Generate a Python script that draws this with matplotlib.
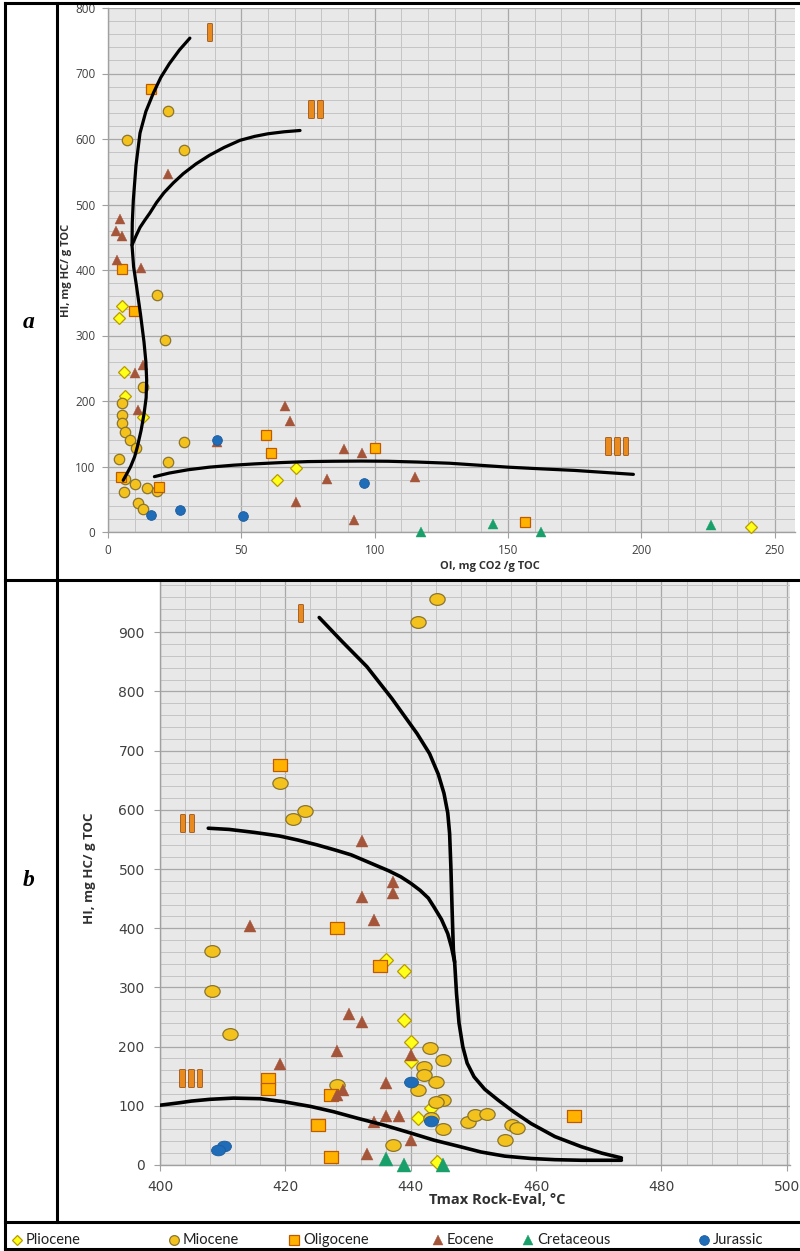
import numpy as np
import matplotlib
matplotlib.use("Agg")
import matplotlib.pyplot as plt
from matplotlib.lines import Line2D
from matplotlib.path import Path
from matplotlib.ticker import MultipleLocator
import matplotlib.patheffects as pe

# ---------------- data: panel a (OI, HI) ----------------
pliocene_a_oi = [5.2, 4.2, 6.1, 6.4, 13.2, 70.4, 63.4, 241]
pliocene_a_hi = [345, 327, 245, 208, 176, 98, 79, 7]
miocene_a_oi = [22.4, 7.2, 28.4, 18.4, 21.4, 13, 5.2, 5.2, 5.2, 6.4, 8.2, 28.4, 10.5, 4.2,
                22.4, 6.4, 10.2, 14.5, 18.2, 6.1, 11.4, 13.2]
miocene_a_hi = [643, 598, 583, 362, 293, 222, 197, 178, 166, 153, 140, 137, 129, 111,
                107, 81, 73, 67, 63, 61.5, 45, 35]
oligocene_a_oi = [16, 5.2, 9.9, 59.2, 100, 61.1, 4.8, 19.2, 156.2]
oligocene_a_hi = [676, 401, 338, 148, 129, 120, 83.5, 69, 15]
eocene_a_oi = [22.4, 4.5, 3, 5.2, 3.2, 12.2, 13, 10.2, 66.4, 11.1, 68.2, 41, 88.4, 95.2,
               82.2, 115.2, 70.4, 92.2]
eocene_a_hi = [547, 478, 460, 452, 415, 403, 255, 242, 193, 186, 170, 138, 127, 120,
               81, 84, 46, 19]
cretaceous_a_oi = [117.2, 144.4, 162.2, 226]
cretaceous_a_hi = [0, 12, 0, 11]
jurassic_a_oi = [41, 96.1, 27.1, 16.1, 50.5]
jurassic_a_hi = [141, 75, 34, 26, 25]

curve1_a_oi = [5.7, 7.2, 8.5, 10, 11, 12.4, 13.5, 14.3, 14.5, 14.2, 13.5, 12.2, 10.7, 9.6,
               9.0, 9.1, 9.5, 10.5, 12, 14.2, 17, 19.8, 23, 26.8, 30.7]
curve1_a_hi = [79, 90, 100, 115, 130, 155, 180, 205, 232, 260, 290, 332, 375, 405,
               438, 472, 507, 560, 609, 642, 670, 694, 715, 736, 754]
curve2_a_oi = [9, 10.5, 12, 13.8, 15.7, 18.2, 21, 24.5, 28.2, 33, 38, 43.5, 49.5, 55, 60, 66, 72]
curve2_a_hi = [438, 452, 465, 476, 487, 503, 518, 533, 547, 562, 575, 587, 598, 604, 608, 611, 613]
curve3_a_oi = [17.4, 23, 30, 38, 47, 55, 65, 75, 84.5, 95, 105, 116, 128, 139, 150, 162, 175, 186, 197]
curve3_a_hi = [84.5, 90, 95, 99, 102, 104, 106, 107.5, 108, 108.3, 108, 106.8, 105, 102, 99, 96.5, 94, 91, 88]

# ---------------- data: panel b (Tmax, HI) ----------------
pliocene_b_t = [436.1, 439, 439, 440.1, 440.1, 443.2, 441.2, 444.2]
pliocene_b_hi = [346, 328, 245, 208, 176, 97, 79, 5.6]
miocene_b_t = [444.2, 441.2, 419.2, 421.2, 423.2, 408.3, 408.3, 411.2, 443.1, 445.2, 442.1,
               442.1, 444.1, 428.2, 441.2, 445.2, 444.1, 443.2, 445.2, 437.2, 449.1, 450.2,
               452.2, 456.2, 457, 455.1]
miocene_b_hi = [957, 918, 645, 585, 598, 362, 294, 221, 198, 177, 165,
                152, 140, 136, 127, 110, 107, 80, 60, 34, 72, 84,
                86, 68, 63, 43]
oligocene_b_t = [419.2, 428.3, 435.1, 417.3, 417.3, 427.2, 425.2, 427.2, 466.1]
oligocene_b_hi = [675, 400, 337, 146, 128, 118, 68, 14, 83]
eocene_b_t = [432.3, 437.2, 437.2, 432.3, 434.1, 414.3, 430.1, 432.3, 428.2, 440.1, 419.2,
              436.1, 429.2, 428.2, 436.1, 438.2, 434.1, 440.1, 433.1]
eocene_b_hi = [547, 478, 459, 452, 414, 403, 255, 241, 193, 186, 170,
               138, 127, 119, 83, 82, 73, 43, 18]
cretaceous_b_t = [436.1, 439, 445.2]
cretaceous_b_hi = [9.6, 0, 0]
jurassic_b_t = [440.1, 443.2, 410.2, 409.2]
jurassic_b_hi = [140, 74, 32, 25]

curve1_b_t = [425.4, 429, 433, 437, 441, 443, 444.4, 445.3, 445.9, 446.2, 446.4, 446.6,
              446.8, 447, 447.3, 447.7, 448.3, 449, 450.1, 451.8, 453.9, 456.4, 459.2,
              463, 467.2, 470.5, 473.6]
curve1_b_hi = [925, 885, 842, 788, 729, 695, 660, 628, 595, 560, 504, 430,
               363, 343, 290, 240, 200, 172, 149, 128, 110, 90, 70,
               48, 31, 20, 12]
curve2_b_t = [407.7, 411, 415, 419, 422, 425, 428, 430.5, 432.5, 434.5, 436.5, 438.4,
              440, 441.5, 442.8, 443.7, 444.9, 445.9, 446.5, 447]
curve2_b_hi = [569, 567, 562, 556, 549, 541, 532, 524, 515, 506, 497, 487,
               476, 464, 451, 436, 415, 391, 368, 343]
curve3_b_t = [400, 403, 405, 408, 411.7, 416, 419.7, 424, 427.7, 431.5, 435.7, 440, 443.7,
              447.5, 451.2, 455, 459.2, 463, 467.2, 473.6]
curve3_b_hi = [101, 105, 108, 111, 113, 112, 107, 99, 90, 79, 67.5, 54, 42,
               32, 22, 15, 11, 9, 8, 8]

series_names = ["Pliocene", "Miocene", "Oligocene", "Eocene", "Cretaceous", "Jurassic"]

# ---------------- styles ----------------
BG = "#e8e8e8"
ellipse = Path(Path.unit_circle().vertices * np.array([1.3, 1.0]), Path.unit_circle().codes)
rect = Path(np.array([[-1.2, -1], [1.2, -1], [1.2, 1], [-1.2, 1], [-1.2, -1]]),
            [Path.MOVETO, Path.LINETO, Path.LINETO, Path.LINETO, Path.CLOSEPOLY])

styles = {
    "Pliocene":   dict(marker="D", mfc="#ffff1a", mec="#b89a00", mew=0.9),
    "Miocene":    dict(marker="o", mfc="#f4c21c", mec="#8a7430", mew=0.9),
    "Oligocene":  dict(marker="s", mfc="#ffb300", mec="#c05a00", mew=0.9),
    "Eocene":     dict(marker="^", mfc="#a5563a", mec="#a5563a", mew=0.3),
    "Cretaceous": dict(marker="^", mfc="#19a06a", mec="#19a06a", mew=0.3),
    "Jurassic":   dict(marker="o", mfc="#1f6cb8", mec="#1d5c9c", mew=0.6),
}
sizes_a = {"Pliocene": 6.0, "Miocene": 7.5, "Oligocene": 7.0, "Eocene": 7.0,
           "Cretaceous": 7.0, "Jurassic": 7.0}
sizes_b = {"Pliocene": 7.0, "Miocene": 11.0, "Oligocene": 10.0, "Eocene": 9.0,
           "Cretaceous": 9.5, "Jurassic": 10.0}

W, H = 800, 1251
fig = plt.figure(figsize=(W / 100, H / 100), dpi=100)
fig.patch.set_facecolor("white")


def fx(px):
    return px / W


def fy(py):
    return 1 - py / H


def style_axes(ax, xmaj, xmin, ymaj, ymin, fs, fam, pad):
    ax.set_facecolor(BG)
    ax.xaxis.set_major_locator(MultipleLocator(xmaj))
    ax.xaxis.set_minor_locator(MultipleLocator(xmin))
    ax.yaxis.set_major_locator(MultipleLocator(ymaj))
    ax.yaxis.set_minor_locator(MultipleLocator(ymin))
    ax.grid(which="major", color="#a8a8a8", lw=0.9, zorder=0)
    ax.grid(which="minor", color="#c4c4c4", lw=0.7, zorder=0)
    ax.set_axisbelow(True)
    for s in ["top", "right"]:
        ax.spines[s].set_visible(False)
    for s in ["left", "bottom"]:
        ax.spines[s].set_color("#a0a0a0")
        ax.spines[s].set_linewidth(1.0)
    ax.tick_params(which="major", direction="out", length=4, color="#a0a0a0",
                   labelsize=fs, labelcolor="#404040", pad=pad)
    ax.tick_params(which="minor", length=0)
    for lab in ax.get_xticklabels() + ax.get_yticklabels():
        lab.set_family(fam)


# ---------------- panel a ----------------
axa = fig.add_axes([fx(108), fy(532), fx(795) - fx(108), fy(8) - fy(532)])
axa.set_xlim(0, 257.6)
axa.set_ylim(0, 800)
style_axes(axa, 50, 10, 100, 20, 8.5, "Open Sans", 5)
axa.set_xticks([0, 50, 100, 150, 200, 250])

data_a = {
    "Pliocene": (pliocene_a_oi, pliocene_a_hi),
    "Miocene": (miocene_a_oi, miocene_a_hi),
    "Oligocene": (oligocene_a_oi, oligocene_a_hi),
    "Eocene": (eocene_a_oi, eocene_a_hi),
    "Cretaceous": (cretaceous_a_oi, cretaceous_a_hi),
    "Jurassic": (jurassic_a_oi, jurassic_a_hi),
}
for name in series_names:
    xs, ys = data_a[name]
    axa.plot(xs, ys, ls="none", ms=sizes_a[name], zorder=3, clip_on=False, **styles[name])

for cx, cy in [(curve1_a_oi, curve1_a_hi), (curve2_a_oi, curve2_a_hi), (curve3_a_oi, curve3_a_hi)]:
    axa.plot(cx, cy, color="black", lw=2.3, zorder=4, solid_capstyle="round",
             solid_joinstyle="round")

lab_eff = [pe.withStroke(linewidth=1.2, foreground="#9a4a05")]
for txt, x, y in [("I", 38.2, 760), ("II", 78, 643), ("III", 191, 128)]:
    axa.text(x, y, txt, color="#e88a1e", fontsize=17, fontweight="bold",
             family="DejaVu Sans", ha="center", va="center", zorder=5,
             path_effects=lab_eff)

# ---------------- panel b ----------------
axb = fig.add_axes([fx(160), fy(1165), fx(790) - fx(160), fy(582) - fy(1165)])
axb.set_xlim(400, 500.5)
axb.set_ylim(0, 985)
style_axes(axb, 20, 4, 100, 20, 10, "DejaVu Sans", 7)
axb.set_yticks(np.arange(0, 901, 100))

data_b = {
    "Pliocene": (pliocene_b_t, pliocene_b_hi),
    "Miocene": (miocene_b_t, miocene_b_hi),
    "Oligocene": (oligocene_b_t, oligocene_b_hi),
    "Eocene": (eocene_b_t, eocene_b_hi),
    "Cretaceous": (cretaceous_b_t, cretaceous_b_hi),
    "Jurassic": (jurassic_b_t, jurassic_b_hi),
}
for name in series_names:
    xs, ys = data_b[name]
    st = dict(styles[name])
    if name in ("Miocene", "Jurassic"):
        st["marker"] = ellipse
    if name == "Oligocene":
        st["marker"] = rect
    axb.plot(xs, ys, ls="none", ms=sizes_b[name], zorder=3, clip_on=False, **st)

for cx, cy in [(curve1_b_t, curve1_b_hi), (curve2_b_t, curve2_b_hi), (curve3_b_t, curve3_b_hi)]:
    axb.plot(cx, cy, color="black", lw=2.6, zorder=4, solid_capstyle="round",
             solid_joinstyle="round")

for txt, x, y in [("I", 422.5, 929), ("II", 404.4, 574), ("III", 405, 143)]:
    axb.text(x, y, txt, color="#e88a1e", fontsize=17, fontweight="bold",
             family="DejaVu Sans", ha="center", va="center", zorder=5,
             path_effects=lab_eff)

# ---------------- axis titles ----------------
fig.text(fx(66), fy(270), "HI, mg HC/ g TOC", rotation=90, ha="center", va="center",
         fontsize=8, fontweight="bold", family="Open Sans", color="#303030")
fig.text(fx(490), fy(566), "OI, mg CO2 /g TOC", ha="center", va="center",
         fontsize=8, fontweight="bold", family="Open Sans", color="#303030")
fig.text(fx(89), fy(868), "HI, mg HC/ g TOC", rotation=90, ha="center", va="center",
         fontsize=9.5, fontweight="bold", family="Open Sans", color="#303030")
fig.text(fx(497), fy(1200), "Tmax Rock-Eval, °C", ha="center", va="center",
         fontsize=10.5, fontweight="bold", family="Open Sans", color="#303030")

# panel letters
fig.text(fx(29), fy(322), "a", ha="center", va="center", fontsize=17,
         fontweight="bold", style="italic", family="Liberation Serif")
fig.text(fx(29), fy(880), "b", ha="center", va="center", fontsize=17,
         fontweight="bold", style="italic", family="Liberation Serif")

# ---------------- frame lines ----------------
lw_frame = 2.2
for (x0, y0, x1, y1) in [(5, 3, 800, 3), (5, 580, 800, 580), (5, 1222, 800, 1222),
                         (5, 1249, 800, 1249), (5, 3, 5, 1249), (57, 3, 57, 1222)]:
    fig.add_artist(Line2D([fx(x0), fx(x1)], [fy(y0), fy(y1)], color="black",
                          lw=lw_frame, transform=fig.transFigure))

# ---------------- legend ----------------
leg_pos = {"Pliocene": 17, "Miocene": 174, "Oligocene": 294, "Eocene": 438,
           "Cretaceous": 528, "Jurassic": 704}
leg_ms = {"Pliocene": 5.5, "Miocene": 7, "Oligocene": 7.5, "Eocene": 6.5,
          "Cretaceous": 6.5, "Jurassic": 7}
ly = 1240
for name in series_names:
    x = leg_pos[name]
    fig.add_artist(Line2D([fx(x)], [fy(ly)], ls="none", ms=leg_ms[name],
                          transform=fig.transFigure, **styles[name]))
    fig.text(fx(x + 9), fy(ly), name, ha="left", va="center", fontsize=10.5,
             family="Lato", color="#202020")

fig.savefig("out.png", dpi=100, facecolor="white")
